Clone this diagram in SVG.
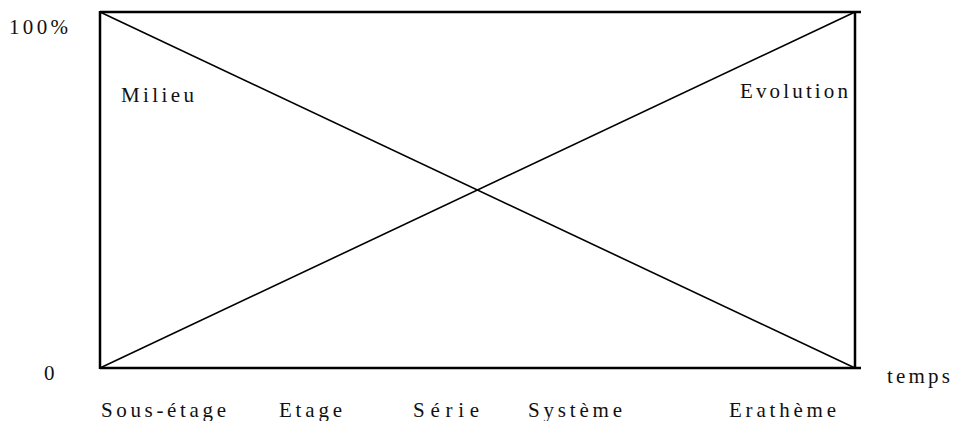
<svg xmlns="http://www.w3.org/2000/svg" width="953" height="421" viewBox="0 0 953 421">
<style>
.frame{stroke:#000;stroke-width:2.5;fill:none}
.diag{stroke:#000;stroke-width:1.6;fill:none}
.t{font-family:'Liberation Serif','Times New Roman','DejaVu Serif',serif;font-size:21px;fill:#111}
</style>
<rect width="953" height="421" fill="#fff"/>
<g id="axes">
<line class="frame" x1="100" y1="12" x2="861" y2="12"/>
<line class="frame" x1="100" y1="368" x2="861" y2="368"/>
<line class="frame" x1="100" y1="11" x2="100" y2="369"/>
<line class="frame" x1="855" y1="11" x2="855" y2="369"/>
</g>
<g id="connectors">
<line class="diag" x1="100" y1="12" x2="855" y2="368"/>
<line class="diag" x1="100" y1="368" x2="855" y2="12"/>
</g>
<g id="labels">
<text class="t" x="9" y="34" textLength="59" lengthAdjust="spacing">100%</text>
<text class="t" x="121" y="102" textLength="73" lengthAdjust="spacing">Milieu</text>
<text class="t" x="740" y="98" textLength="108" lengthAdjust="spacing">Evolution</text>
<text class="t" x="44" y="380">0</text>
<text class="t" x="887" y="383" textLength="63" lengthAdjust="spacing">temps</text>
<text class="t" x="101" y="417" textLength="125" lengthAdjust="spacing">Sous-étage</text>
<text class="t" x="279" y="417" textLength="63" lengthAdjust="spacing">Etage</text>
<text class="t" x="413" y="417" textLength="66" lengthAdjust="spacing">Série</text>
<text class="t" x="528" y="417" textLength="94" lengthAdjust="spacing">Système</text>
<text class="t" x="729" y="417" textLength="107" lengthAdjust="spacing">Erathème</text>
</g>
</svg>
